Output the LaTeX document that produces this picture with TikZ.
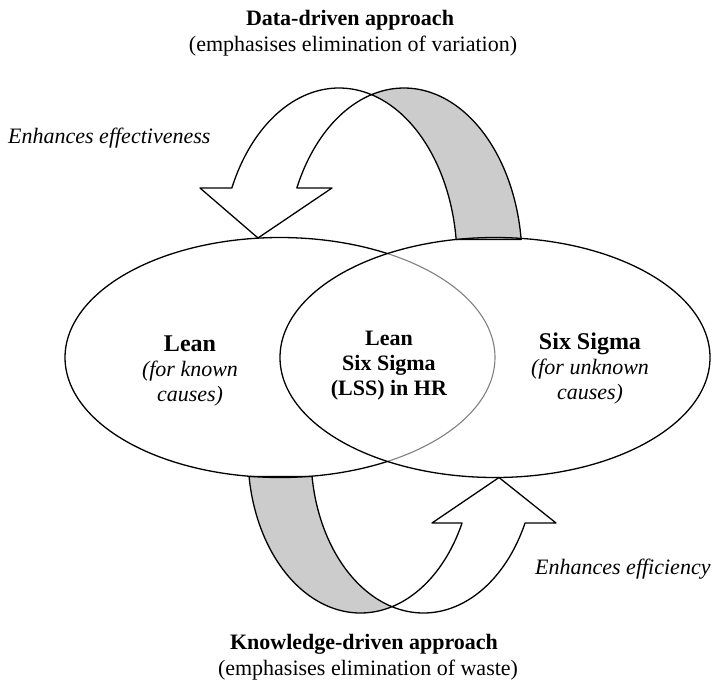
\documentclass[tikz,border=0pt]{standalone}
\usepackage{fontspec}
\setmainfont{Liberation Serif}
\definecolor{bandgray}{RGB}{204,204,204}
\definecolor{arcgray}{RGB}{128,128,128}
\begin{document}
\begin{tikzpicture}[x=1pt,y=-1pt,
  outline/.style={line width=1.3pt, draw=black, line join=round},
  band/.style={outline, fill=bandgray},
  front/.style={outline, fill=white},
  lbl/.style={font=\fontsize{22}{25}\selectfont, align=center, inner sep=0pt},
  sidelbl/.style={lbl, font=\fontsize{22}{25}\selectfont\itshape, anchor=west}]
\useasboundingbox (0,0) rectangle (715,686);

% top curved arrow (Data-driven)
\filldraw[band] plot[domain=-6.85:-105.99,samples=60] ({404+118*cos(\x)},{260+172*sin(\x)})
  -- plot[domain=-74.01:-6.85,samples=60] ({339+118*cos(\x)},{260+172*sin(\x)}) -- cycle;
\filldraw[front] plot[domain=204.75:285.99,samples=60] ({339+118*cos(\x)},{260+172*sin(\x)})
  -- plot[domain=254.01:204.75,samples=60] ({404+118*cos(\x)},{260+172*sin(\x)})
  -- (332,188) -- (258,238) -- (200,188) -- cycle;

% bottom curved arrow (Knowledge-driven)
\filldraw[band] plot[domain=172.18:73.74,samples=60] ({360.5+112.5*cos(\x)},{455+158*sin(\x)})
  -- plot[domain=106.26:172.18,samples=60] ({423.5+112.5*cos(\x)},{455+158*sin(\x)}) -- cycle;
\filldraw[front] plot[domain=25.49:106.26,samples=60] ({423.5+112.5*cos(\x)},{455+158*sin(\x)})
  -- plot[domain=73.74:25.49,samples=60] ({360.5+112.5*cos(\x)},{455+158*sin(\x)})
  -- (432,523) -- (499,477.5) -- (556,523) -- cycle;

% ellipses
\draw[outline] plot[domain=60:300,samples=150] ({280+215*cos(\x)},{357.5+120*sin(\x)});
\draw[line width=1.1pt, arcgray] plot[domain=-60:60,samples=80] ({280+215*cos(\x)},{357.5+120*sin(\x)});
\draw[outline] (495,357.5) ellipse [x radius=215, y radius=120];

% labels
\node[lbl] (title1) at (350,20) {\textbf{Data-driven approach}};
\node[lbl] (sub1) at (353,46) {(emphasises elimination of variation)};
\node[sidelbl] (eff1) at (8,138) {Enhances effectiveness};
\node[lbl] (lean) at (190,371) {{\fontsize{24}{26}\selectfont\textbf{Lean}}\\\textit{(for known}\\\textit{causes)}};
\node[lbl] (lss) at (389,366) {\textbf{Lean}\\\textbf{Six Sigma}\\\textbf{(LSS) in HR}};
\node[lbl] (six) at (590,369) {{\fontsize{24}{26}\selectfont\textbf{Six Sigma}}\\\textit{(for unknown}\\\textit{causes)}};
\node[sidelbl] (eff2) at (535,569) {Enhances efficiency};
\node[lbl] (title2) at (364,644) {\textbf{Knowledge-driven approach}};
\node[lbl] (sub2) at (368,670) {(emphasises elimination of waste)};
\end{tikzpicture}
\end{document}
